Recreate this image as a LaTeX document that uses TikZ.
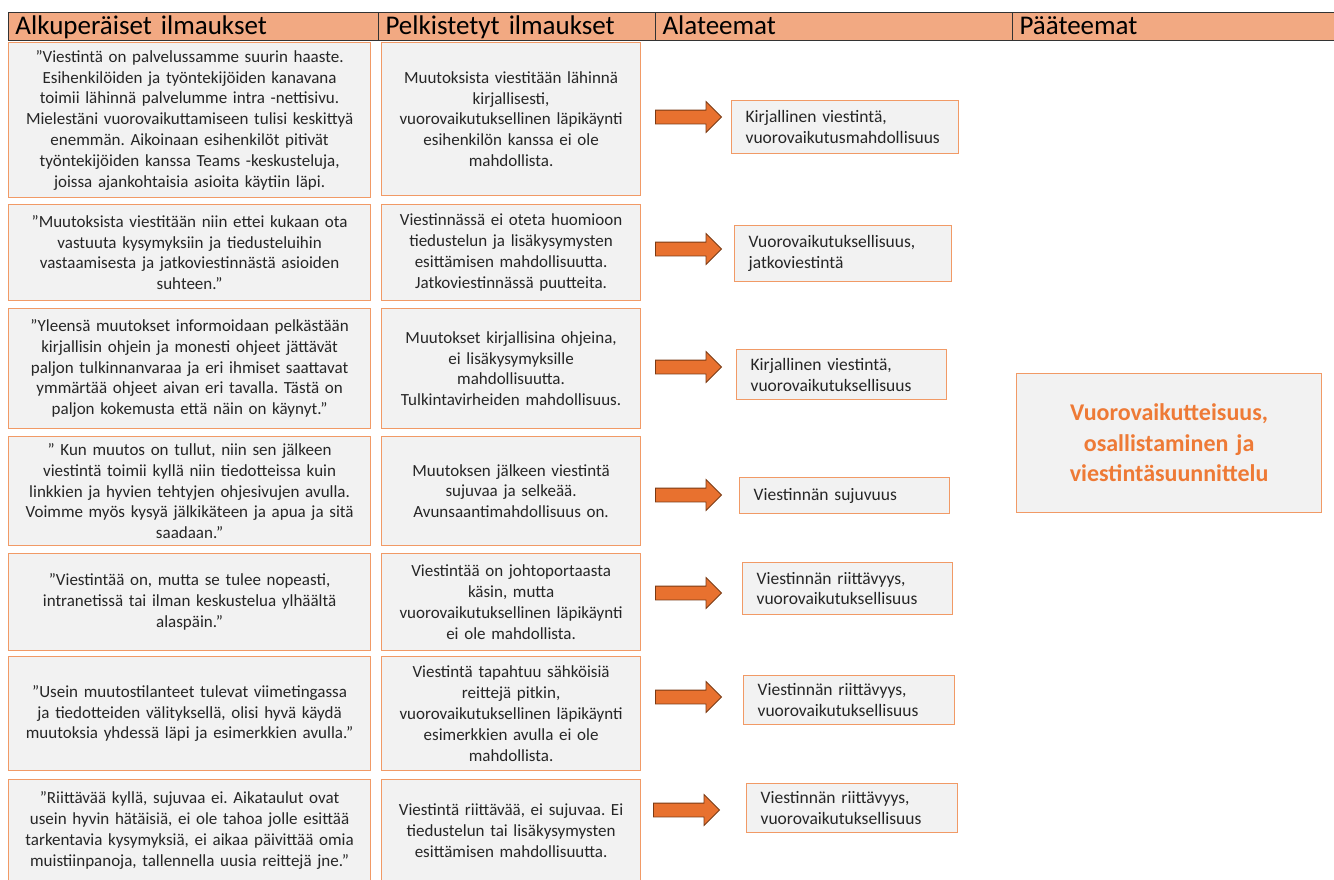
\documentclass[tikz,border=0pt]{standalone}
\usepackage{fontspec}
\setmainfont{Carlito}
\frenchspacing
\usetikzlibrary{shapes.arrows}
\definecolor{headfill}{HTML}{F2A982}
\definecolor{boxline}{HTML}{F19A66}
\definecolor{boxfill}{HTML}{F2F2F2}
\definecolor{arrowfill}{HTML}{E8712F}
\definecolor{arrowline}{HTML}{7A3A14}
\definecolor{themetext}{HTML}{EE7A36}
\definecolor{bodytext}{HTML}{262626}
\tikzset{headcell/.style={draw=black!80,line width=1pt,fill=headfill,anchor=north west,
		minimum height=28pt,inner xsep=7pt,inner ysep=1pt,text height=21pt,text depth=5pt,
		align=left,font=\fontsize{27}{29}\selectfont},
	quotebox/.style={draw=boxline,line width=1.2pt,fill=boxfill,anchor=north west,
		inner xsep=6pt,align=center,text=bodytext,font=\fontsize{17}{20.8}\selectfont},
	reducedbox/.style={quotebox},
	subtheme/.style={quotebox,inner xsep=14pt,align=left,font=\fontsize{17.5}{20.8}\selectfont},
	maintheme/.style={quotebox,text=themetext,font=\fontsize{24}{30.5}\selectfont\bfseries},
	blockarrow/.style={single arrow,fill=arrowfill,draw=arrowline,line width=0.8pt,
		minimum height=66pt,minimum width=30pt,inner xsep=0pt,inner ysep=6.5pt,
		single arrow head extend=8.5pt,single arrow head indent=0pt}}
\begin{document}
\begin{tikzpicture}[x=1pt,y=-1pt]
	\clip (0,0) rectangle (1334,879);
	\node[headcell,text width=356pt] (h1) at (8,12) {Alkuperäiset ilmaukset};
	\node[headcell,text width=263pt] (h2) at (378,12) {Pelkistetyt ilmaukset};
	\node[headcell,text width=343pt] (h3) at (655,12) {Alateemat};
	\node[headcell,text width=319pt] (h4) at (1012,12) {Pääteemat};

	\node[quotebox,text width=350pt,minimum height=155pt] (q1) at (8,42)
		{”Viestintä on palvelussamme suurin haaste.\\ Esihenkilöiden ja työntekijöiden kanavana\\ toimii lähinnä palvelumme intra -nettisivu.\\ Mielestäni vuorovaikuttamiseen tulisi keskittyä\\ enemmän. Aikoinaan esihenkilöt pitivät\\ työntekijöiden kanssa Teams -keskusteluja,\\ joissa ajankohtaisia asioita käytiin läpi.};
	\node[quotebox,text width=350pt,minimum height=96pt] (q2) at (8,204)
		{”Muutoksista viestitään niin ettei kukaan ota\\ vastuuta kysymyksiin ja tiedusteluihin\\ vastaamisesta ja jatkoviestinnästä asioiden\\ suhteen.”};
	\node[quotebox,text width=350pt,minimum height=120pt] (q3) at (8,308)
		{”Yleensä muutokset informoidaan pelkästään\\ kirjallisin ohjein ja monesti ohjeet jättävät\\ paljon tulkinnanvaraa ja eri ihmiset saattavat\\ ymmärtää ohjeet aivan eri tavalla. Tästä on\\ paljon kokemusta että näin on käynyt.”};
	\node[quotebox,text width=350pt,minimum height=109pt] (q4) at (8,436)
		{” Kun muutos on tullut, niin sen jälkeen\\ viestintä toimii kyllä niin tiedotteissa kuin\\ linkkien ja hyvien tehtyjen ohjesivujen avulla.\\ Voimme myös kysyä jälkikäteen ja apua ja sitä\\ saadaan.”};
	\node[quotebox,text width=350pt,minimum height=97pt] (q5) at (8,553)
		{”Viestintää on, mutta se tulee nopeasti,\\ intranetissä tai ilman keskustelua ylhäältä\\ alaspäin.”};
	\node[quotebox,text width=350pt,minimum height=114pt] (q6) at (8,656)
		{”Usein muutostilanteet tulevat viimetingassa\\ ja tiedotteiden välityksellä, olisi hyvä käydä\\ muutoksia yhdessä läpi ja esimerkkien avulla.”};
	\node[quotebox,text width=350pt,minimum height=102pt] (q7) at (8,779)
		{”Riittävää kyllä, sujuvaa ei. Aikataulut ovat\\ usein hyvin hätäisiä, ei ole tahoa jolle esittää\\ tarkentavia kysymyksiä, ei aikaa päivittää omia\\ muistiinpanoja, tallennella uusia reittejä jne.”};

	\node[reducedbox,text width=247pt,minimum height=153pt] (r1) at (381,42)
		{Muutoksista viestitään lähinnä\\ kirjallisesti,\\ vuorovaikutuksellinen läpikäynti\\ esihenkilön kanssa ei ole\\ mahdollista.};
	\node[reducedbox,text width=247pt,minimum height=96pt] (r2) at (381,204)
		{Viestinnässä ei oteta huomioon\\ tiedustelun ja lisäkysymysten\\ esittämisen mahdollisuutta.\\ Jatkoviestinnässä puutteita.};
	\node[reducedbox,text width=247pt,minimum height=120pt] (r3) at (381,308)
		{Muutokset kirjallisina ohjeina,\\ ei lisäkysymyksille\\ mahdollisuutta.\\ Tulkintavirheiden mahdollisuus.};
	\node[reducedbox,text width=247pt,minimum height=109pt] (r4) at (381,436)
		{Muutoksen jälkeen viestintä\\ sujuvaa ja selkeää.\\ Avunsaantimahdollisuus on.};
	\node[reducedbox,text width=247pt,minimum height=97pt] (r5) at (381,553)
		{Viestintää on johtoportaasta\\ käsin, mutta\\ vuorovaikutuksellinen läpikäynti\\ ei ole mahdollista.};
	\node[reducedbox,text width=247pt,minimum height=114pt] (r6) at (381,656)
		{Viestintä tapahtuu sähköisiä\\ reittejä pitkin,\\ vuorovaikutuksellinen läpikäynti\\ esimerkkien avulla ei ole\\ mahdollista.};
	\node[reducedbox,text width=247pt,minimum height=102pt] (r7) at (381,779)
		{Viestintä riittävää, ei sujuvaa. Ei\\ tiedustelun tai lisäkysymysten\\ esittämisen mahdollisuutta.};

	\foreach \i/\ax/\ay in {1/685/117,2/685/249,3/685/367,4/685/495,5/685/593,6/685/697,7/683/810}
		\node[blockarrow] (a\i) at (\ax,\ay) {};

	\node[subtheme,text width=199pt,minimum height=53pt] (s1) at (731,100)
		{Kirjallinen viestintä,\\ vuorovaikutusmahdollisuus};
	\node[subtheme,text width=189pt,minimum height=56pt] (s2) at (734,225)
		{Vuorovaikutuksellisuus,\\ jatkoviestintä};
	\node[subtheme,text width=182pt,minimum height=50pt] (s3) at (736,349)
		{Kirjallinen viestintä,\\ vuorovaikutuksellisuus};
	\node[subtheme,text width=182pt,minimum height=36pt] (s4) at (739,477)
		{Viestinnän sujuvuus};
	\node[subtheme,text width=182pt,minimum height=52pt] (s5) at (742,562)
		{Viestinnän riittävyys,\\ vuorovaikutuksellisuus};
	\node[subtheme,text width=183pt,minimum height=49pt] (s6) at (743,675)
		{Viestinnän riittävyys,\\ vuorovaikutuksellisuus};
	\node[subtheme,text width=183pt,minimum height=49pt] (s7) at (746,783)
		{Viestinnän riittävyys,\\ vuorovaikutuksellisuus};

	\node[maintheme,text width=293pt,minimum height=139pt] (main) at (1016,373)
		{Vuorovaikutteisuus,\\ osallistaminen ja\\ viestintäsuunnittelu};
\end{tikzpicture}
\end{document}
